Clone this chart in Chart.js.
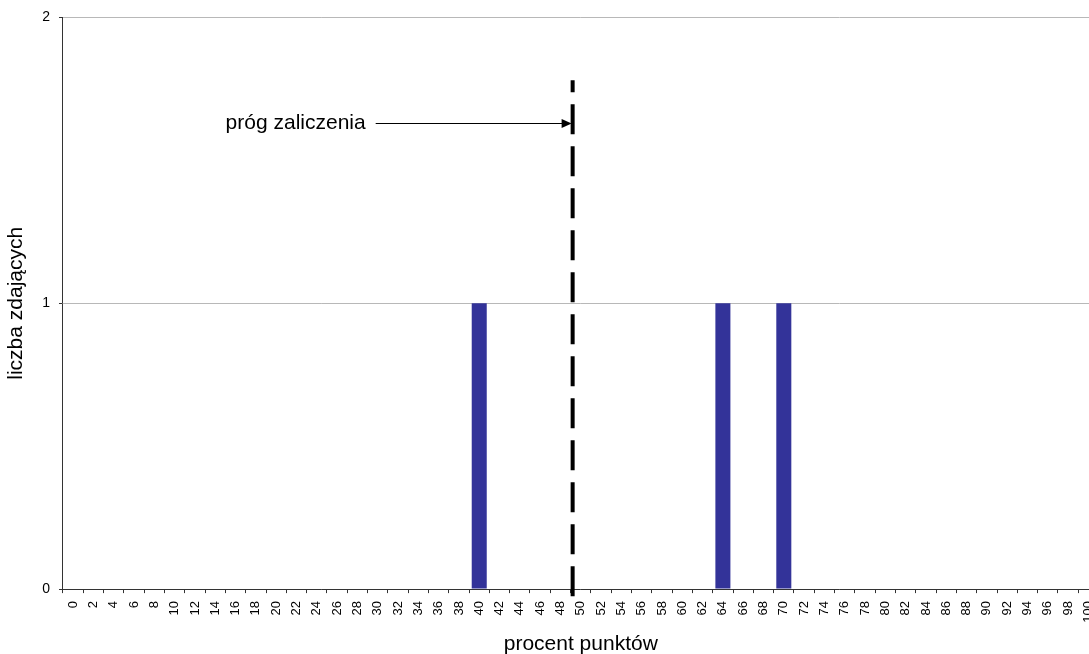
<!DOCTYPE html>
<html>
<head>
<meta charset="utf-8">
<script src="https://cdn.jsdelivr.net/npm/chart.js@4/dist/chart.umd.min.js"></script>
<style>
  html, body { margin: 0; padding: 0; overflow: hidden; background: #fff; }
  #wrap { width: 1112px; height: 654px; }
</style>
</head>
<body>
<div id="wrap"><canvas id="scoreChart"></canvas></div>
<script>
const percentLabels = ['0','2','4','6','8','10','12','14','16','18','20','22','24','26','28','30','32','34','36','38','40','42','44','46','48','50','52','54','56','58','60','62','64','66','68','70','72','74','76','78','80','82','84','86','88','90','92','94','96','98','100'];
const examCounts = [0,0,0,0,0,0,0,0,0,0,0,0,0,0,0,0,0,0,0,0,1,0,0,0,0,0,0,0,0,0,0,0,1,0,0,1,0,0,0,0,0,0,0,0,0,0,0,0,0,0,0];
const yTicks = [0, 1, 2];

// próg zaliczenia (percent) and where the dashed line / arrow sit on the count axis
const passThreshold = 49.2;
const thresholdTop = 1.78;
const thresholdBottom = -0.025;
const arrowLevel = 1.63;
const arrowFromPercent = 29.8;
const thresholdText = 'próg zaliczenia';

const FONT = '"Liberation Sans", Arial, sans-serif';

const thresholdPlugin = {
  id: 'threshold',
  afterDatasetsDraw(chart) {
    const { ctx, scales: { x, y } } = chart;
    const step = x.getPixelForValue(1) - x.getPixelForValue(0);
    const toPx = p => x.getPixelForValue(0) + (p / 2) * step;
    const lx = toPx(passThreshold);

    ctx.save();
    // dashed threshold line, drawn from bottom up
    ctx.strokeStyle = '#000';
    ctx.lineWidth = 4;
    ctx.setLineDash([30, 12]);
    ctx.beginPath();
    ctx.moveTo(lx, y.getPixelForValue(thresholdBottom));
    ctx.lineTo(lx, y.getPixelForValue(thresholdTop));
    ctx.stroke();

    // arrow
    const ay = Math.round(y.getPixelForValue(arrowLevel)) + 0.5;
    const ax0 = toPx(arrowFromPercent);
    const ax1 = lx - 1;
    ctx.setLineDash([]);
    ctx.lineWidth = 1;
    ctx.beginPath();
    ctx.moveTo(ax0, ay);
    ctx.lineTo(ax1 - 8, ay);
    ctx.stroke();
    ctx.fillStyle = '#000';
    ctx.beginPath();
    ctx.moveTo(ax1, ay);
    ctx.lineTo(ax1 - 10, ay - 4.5);
    ctx.lineTo(ax1 - 10, ay + 4.5);
    ctx.closePath();
    ctx.fill();

    // label
    ctx.font = '21px ' + FONT;
    ctx.textAlign = 'right';
    ctx.textBaseline = 'middle';
    ctx.fillText(thresholdText, ax0 - 10, ay);
    ctx.restore();
  }
};

new Chart(document.getElementById('scoreChart'), {
  type: 'bar',
  data: {
    labels: percentLabels,
    datasets: [{
      data: examCounts,
      backgroundColor: '#333399',
      borderWidth: 0,
      categoryPercentage: 1,
      barPercentage: 0.74
    }]
  },
  options: {
    responsive: true,
    maintainAspectRatio: false,
    animation: false,
    layout: { padding: { top: 13, right: 2, bottom: 0, left: 4 } },
    plugins: { legend: { display: false }, tooltip: { enabled: false } },
    scales: {
      x: {
        offset: true,
        grid: {
          offset: true,
          drawOnChartArea: false,
          color: '#333',
          tickLength: 4
        },
        border: { color: '#333', width: 1 },
        ticks: {
          autoSkip: false,
          maxRotation: 90,
          minRotation: 90,
          padding: 8,
          color: '#000',
          font: { family: FONT, size: 13 }
        },
        title: {
          display: true,
          text: 'procent punktów',
          color: '#000',
          font: { family: FONT, size: 21 },
          padding: { top: 1, bottom: -3 }
        }
      },
      y: {
        min: 0,
        max: 2,
        afterBuildTicks: scale => { scale.ticks = yTicks.map(v => ({ value: v })); },
        grid: {
          color: '#b8b8b8',
          tickColor: '#333',
          tickLength: 4
        },
        border: { color: '#333', width: 1 },
        ticks: {
          padding: 9,
          color: '#000',
          font: { family: FONT, size: 14 }
        },
        title: {
          display: true,
          text: 'liczba zdających',
          color: '#000',
          font: { family: FONT, size: 21 },
          padding: { top: 0, bottom: 4 }
        }
      }
    }
  },
  plugins: [thresholdPlugin]
});
</script>
</body>
</html>
